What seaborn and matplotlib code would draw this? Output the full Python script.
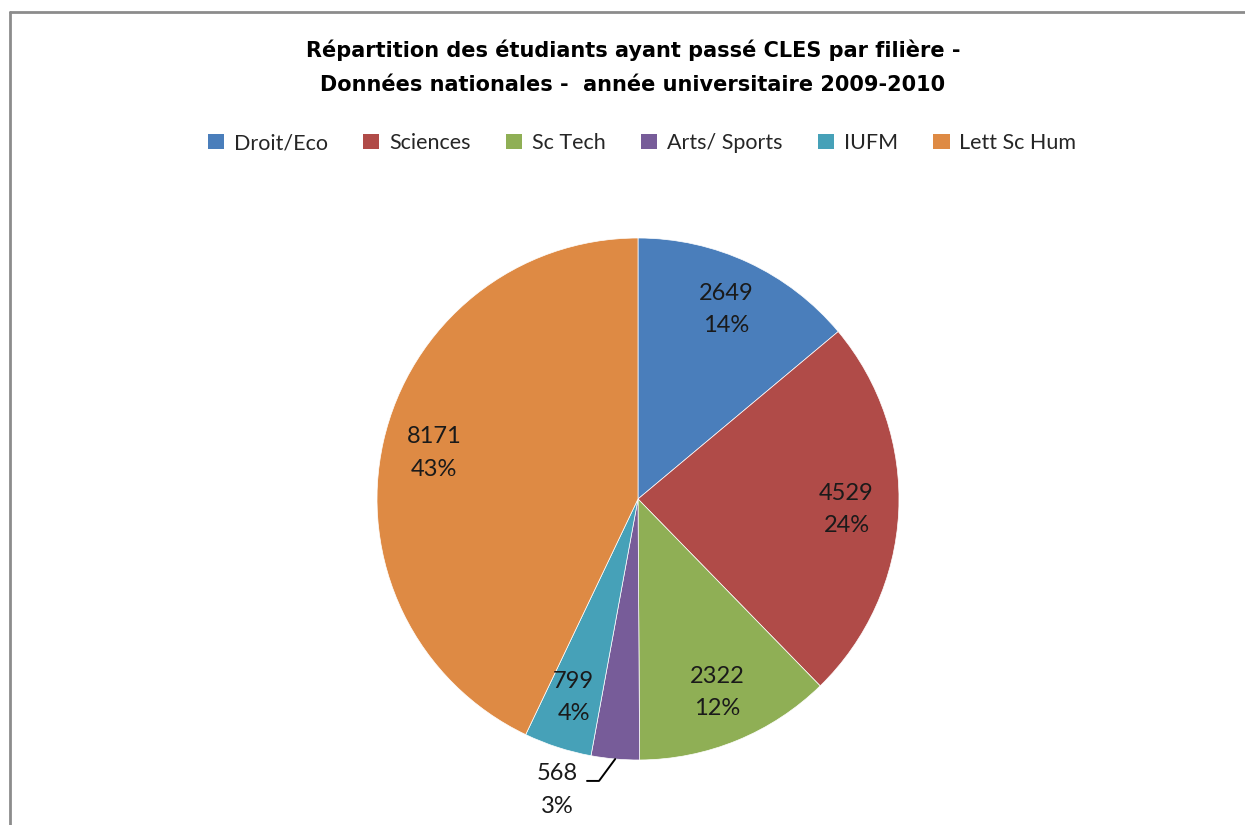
import numpy as np
import matplotlib
matplotlib.use("Agg")
import matplotlib.pyplot as plt
import matplotlib.patches as mpatches
import matplotlib.lines as mlines
import seaborn as sns

# data
filieres = ["Droit/Eco", "Sciences", "Sc Tech", "Arts/ Sports", "IUFM", "Lett Sc Hum"]
effectifs = [2649, 4529, 2322, 568, 799, 8171]
couleurs = ["#4A7EBB", "#B04B48", "#8FAF55", "#775C99", "#46A1B8", "#DE8A44"]
titre = ("Répartition des étudiants ayant passé CLES par filière -\n"
         "Données nationales -  année universitaire 2009-2010")

sns.set_theme(style="white")
plt.rcParams['font.family'] = ['Lato', 'DejaVu Sans']

palette = sns.color_palette(couleurs)

fig = plt.figure(figsize=(12.45, 8.25), dpi=100)
fig.patch.set_facecolor("white")

# pie axes: centre (638, 499) px, radius 261 px
W, H = 1245, 825
cx, cy, R = 638, 499, 261
ax = fig.add_axes([(cx - R) / W, (H - cy - R) / H, 2 * R / W, 2 * R / H])
wedges, _ = ax.pie(effectifs, colors=palette, startangle=90, counterclock=False,
                   radius=1, wedgeprops=dict(linewidth=0.5, edgecolor="white"))
ax.set_xlim(-1, 1)
ax.set_ylim(-1, 1)
ax.set_aspect("equal")
ax.axis("off")

total = sum(effectifs)
for i, (w, v) in enumerate(zip(wedges, effectifs)):
    ang = np.deg2rad((w.theta1 + w.theta2) / 2)
    pct = "{:.0f}%".format(100 * v / total)
    txt = "{}\n{}".format(v, pct)
    if filieres[i] == "Arts/ Sports":
        # small slice: label outside with a leader line
        ex, ey = np.cos(ang), np.sin(ang)
        elbow = (ex - 0.062, ey - 0.084)
        end = (elbow[0] - 0.046, elbow[1])
        ax.plot([ex, elbow[0], end[0]], [ey, elbow[1], end[1]], color="black",
                lw=1.4, clip_on=False)
        ax.text(ex - 0.223, ey - 0.119, txt, ha="center", va="center",
                fontsize=17, color="#1a1a1a", linespacing=1.66, clip_on=False)
    else:
        r = 0.80
        ax.text(r * np.cos(ang), r * np.sin(ang), txt, ha="center", va="center",
                fontsize=17, color="#1a1a1a", linespacing=1.66)

# title
fig.text(633 / W, 1 - 67 / H, titre, ha="center", va="center", fontsize=15,
         fontweight="bold", family=["DejaVu Sans"], linespacing=1.9, color="black")

# legend
handles = [mpatches.Patch(facecolor=c, edgecolor="none", label=l)
           for c, l in zip(palette, filieres)]
fig.legend(handles=handles, loc="center", bbox_to_anchor=(642 / W, 1 - 143 / H),
           ncol=6, frameon=False, fontsize=15.5, handlelength=0.75, handleheight=0.75,
           handletextpad=0.45, columnspacing=1.65, labelcolor="#262626")

# chart border (left and top)
gx, gy = 10 / W, 1 - 12 / H
fig.add_artist(mlines.Line2D([gx, gx], [0, gy], color="#8c8c8c", lw=2,
                             transform=fig.transFigure))
fig.add_artist(mlines.Line2D([gx, 1], [gy, gy], color="#8c8c8c", lw=2,
                             transform=fig.transFigure))

fig.savefig("out.png", dpi=100, facecolor="white")
